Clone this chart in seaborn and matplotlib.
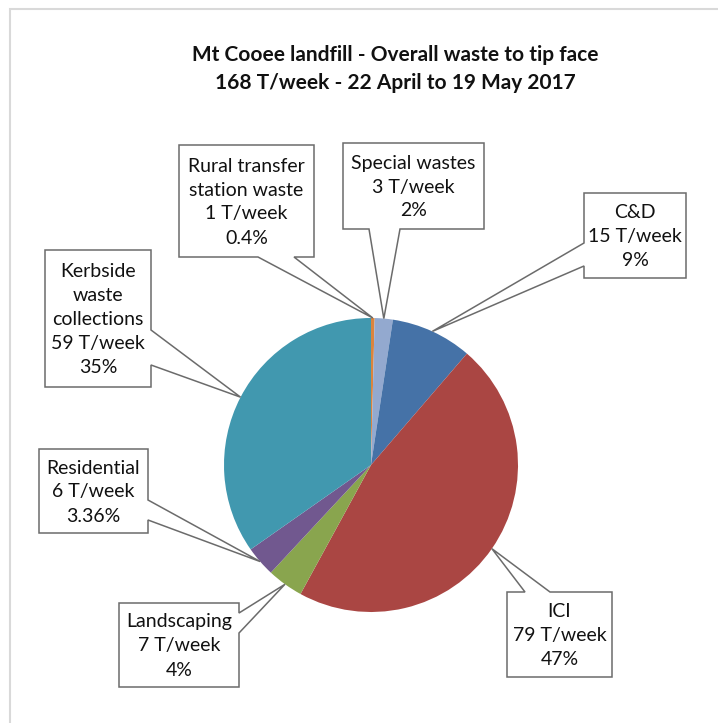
import numpy as np
import matplotlib
matplotlib.use("Agg")
import matplotlib.pyplot as plt
from matplotlib.patches import Polygon
import seaborn as sns

# Waste streams to the tip face, clockwise from 12 o'clock
categories = ["Rural transfer\nstation waste", "Special wastes", "C&D", "ICI",
              "Landscaping", "Residential", "Kerbside\nwaste\ncollections"]
tonnes_per_week = [1, 3, 15, 79, 7, 6, 59]
share_pct = [0.4, 2, 9, 47, 4, 3.36, 35]
share_labels = ["0.4%", "2%", "9%", "47%", "4%", "3.36%", "35%"]
colors = ["#DB843D", "#93A9CF", "#4572A7", "#AA4643", "#89A54E", "#71588F", "#4198AF"]

title = "Mt Cooee landfill - Overall waste to tip face\n168 T/week - 22 April to 19 May 2017"

sns.set_theme(style="white")
plt.rcParams["font.family"] = ["Lato", "DejaVu Sans"]

W, H = 718, 723
fig = plt.figure(figsize=(W / 100, H / 100), dpi=100)
fig.patch.set_facecolor("white")

# pie axes: a square in pixel space
cx, cy, r = 371, 465, 147
ax = fig.add_axes([(cx - r) / W, (H - cy - r) / H, 2 * r / W, 2 * r / H])
wedges, _ = ax.pie(share_pct, colors=colors, startangle=90, counterclock=False,
                   wedgeprops=dict(linewidth=0))
ax.set_xlim(-1, 1)
ax.set_ylim(-1, 1)
ax.set_aspect("equal")
ax.axis("off")

# overlay axes in pixel coordinates (y down) for callouts and title
ov = fig.add_axes([0, 0, 1, 1], zorder=5)
ov.set_xlim(0, W)
ov.set_ylim(H, 0)
ov.axis("off")
ov.patch.set_alpha(0)

# outer chart frame
ov.plot([10, 10, W + 5], [H + 5, 9, 9], color="#d9d9d9", lw=1.5,
        solid_joinstyle="miter")

ov.text(395, 69, title, ha="center", va="center", fontsize=15,
        fontweight="bold", color="#111111", linespacing=1.47)


def tip_of(wedge):
    mid = np.deg2rad(0.5 * (wedge.theta1 + wedge.theta2))
    disp = ax.transData.transform((np.cos(mid), np.sin(mid)))
    return ov.transData.inverted().transform(disp)


def callout(box, edge, base, tip):
    L, T, R, B = box
    a, b = base
    if edge == "bottom":
        verts = [(L, T), (R, T), (R, B), (max(a, b), B), tip, (min(a, b), B), (L, B)]
    elif edge == "top":
        verts = [(L, T), (min(a, b), T), tip, (max(a, b), T), (R, T), (R, B), (L, B)]
    elif edge == "right":
        verts = [(L, T), (R, T), (R, min(a, b)), tip, (R, max(a, b)), (R, B), (L, B)]
    else:  # left
        verts = [(L, T), (R, T), (R, B), (L, B), (L, max(a, b)), tip, (L, min(a, b))]
    ov.add_patch(Polygon(verts, closed=True, facecolor="white",
                         edgecolor="#6b6b6b", lw=1.1, joinstyle="miter"))


# box (left, top, right, bottom), pointer edge, pointer base span
layout = [
    ((179, 145, 314, 257), "bottom", (258, 294)),
    ((343, 143, 484, 229), "bottom", (369, 400)),
    ((584, 193, 686, 278), "left", (243, 266)),
    ((507, 592, 612, 677), "top", (525, 550)),
    ((119, 603, 239, 687), "right", (613, 633)),
    ((39, 449, 148, 533), "right", (500, 520)),
    ((45, 250, 151, 387), "right", (330, 365)),
]

for wedge, name, t, lab, (box, edge, base) in zip(
        wedges, categories, tonnes_per_week, share_labels, layout):
    callout(box, edge, base, tip_of(wedge))
    L, T, R, B = box
    ov.text((L + R) / 2, (T + B) / 2 + 1, f"{name}\n{t} T/week\n{lab}",
            ha="center", va="center", multialignment="center",
            fontsize=14, color="#111111", linespacing=1.5)

fig.savefig("out.png", dpi=100, facecolor="white")
